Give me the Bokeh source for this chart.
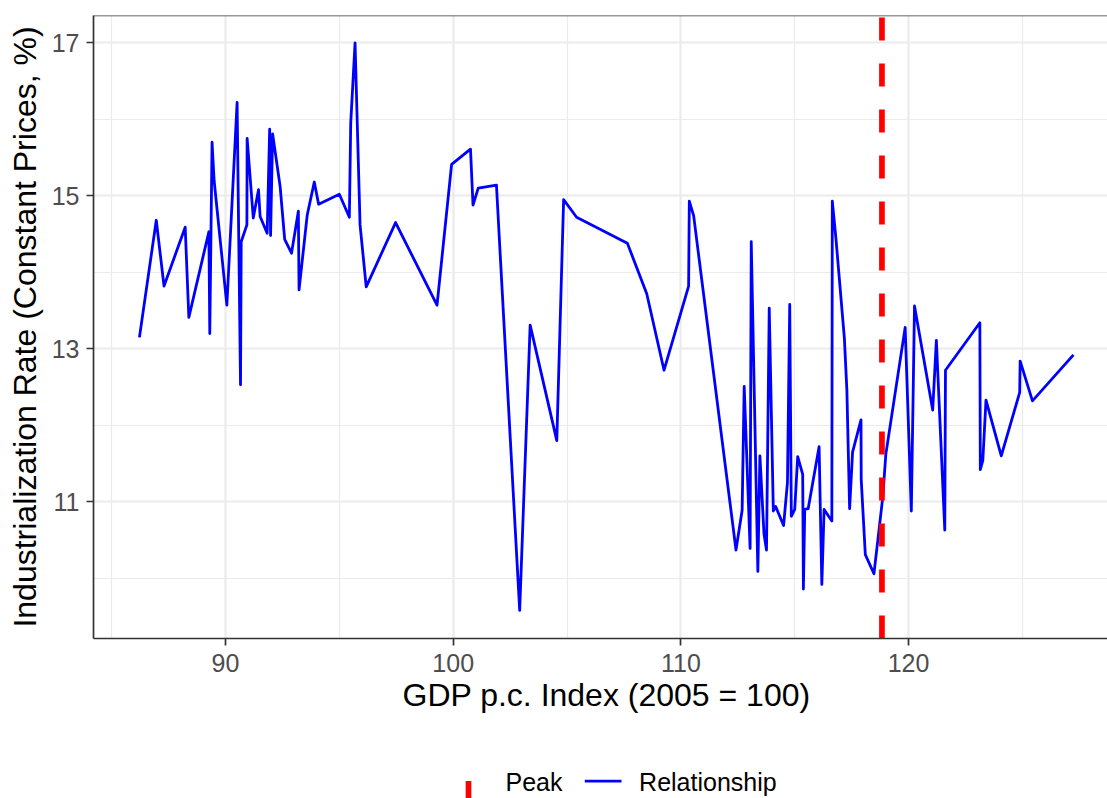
from bokeh.plotting import figure
from bokeh.models import Range1d, FixedTicker, Span, Title
from bokeh.layouts import column
from bokeh.embed import file_html
from bokeh.resources import INLINE
from bokeh.core.properties import value

# ---- data ----
gdp_index = [86.22, 86.96, 87.30, 88.23, 88.39, 89.27, 89.31, 89.41, 89.50, 90.06,
             90.51, 90.66, 90.69, 90.94, 90.95, 91.22, 91.45, 91.52, 91.83, 91.94,
             91.98, 92.07, 92.40, 92.60, 92.90, 93.20, 93.23, 93.59, 93.90, 94.09,
             95.00, 95.44, 95.50, 95.69, 95.91, 96.18, 97.47, 99.29, 99.93, 100.76,
             100.87, 101.10, 101.90, 102.08, 102.92, 103.38, 104.55, 104.85, 105.42, 107.65,
             108.50, 109.26, 110.34, 110.37, 110.56, 112.42, 112.69, 112.78, 113.04, 113.09,
             113.38, 113.47, 113.65, 113.76, 113.88, 114.06, 114.16, 114.51, 114.68, 114.78,
             114.85, 115.00, 115.13, 115.35, 115.38, 115.44, 115.59, 116.07, 116.19, 116.29,
             116.63, 116.65, 116.81, 117.18, 117.29, 117.41, 117.54, 117.91, 117.92, 118.10,
             118.48, 118.87, 119.00, 119.85, 120.12, 120.26, 121.06, 121.22, 121.59, 121.62,
             123.13, 123.15, 123.26, 123.40, 124.07, 124.88, 124.90, 125.44, 127.24]
industrialization_rate = [13.15, 14.68, 13.82, 14.59, 13.41, 14.53, 13.20, 15.70, 15.20, 13.57,
                          16.22, 12.53, 14.40, 14.62, 15.75, 14.71, 15.08, 14.73, 14.51, 15.87,
                          14.48, 15.81, 15.12, 14.43, 14.25, 14.80, 13.77, 14.75, 15.18, 14.89,
                          15.02, 14.72, 15.95, 17.00, 14.62, 13.81, 14.65, 13.57, 15.41, 15.61,
                          14.88, 15.10, 15.14, 14.15, 9.58, 13.31, 11.80, 14.95, 14.72, 14.38,
                          13.72, 12.72, 13.82, 14.93, 14.74, 10.37, 10.89, 12.51, 10.39, 14.40,
                          10.09, 11.60, 10.58, 10.37, 13.53, 10.88, 10.94, 10.69, 11.25, 13.58,
                          10.81, 10.90, 11.59, 11.36, 9.86, 10.90, 10.91, 11.72, 9.92, 10.90,
                          10.75, 14.93, 14.44, 13.14, 12.46, 10.91, 11.65, 12.07, 11.29, 10.31,
                          10.06, 11.07, 11.62, 13.28, 10.88, 13.56, 12.20, 13.11, 10.63, 12.72,
                          13.34, 11.42, 11.54, 12.33, 11.60, 12.43, 12.84, 12.32, 12.92]
peak_gdp = 118.83
x_ticks = [90, 100, 110, 120]
x_minor_ticks = [85, 95, 105, 115, 125]
y_ticks = [11, 13, 15, 17]
y_minor_ticks = [10, 12, 14, 16]
legend_labels = ["Peak", "Relationship"]
x_title = "GDP p.c. Index (2005 = 100)"
y_title = "Industrialization Rate (Constant Prices, %)"

# ---- styling ----
FONT = "Liberation Sans"
TITLE_SIZE = "32px"
TICK_SIZE = "25px"
X0, X1 = 84.203, 128.736
Y0, Y1 = 9.213, 17.357
BORDER = "#333333"
GRID = "#EBEBEB"
LEFT = 93

p = figure(width=1107, height=725, x_range=Range1d(X0, X1), y_range=Range1d(Y0, Y1),
           output_backend="svg", toolbar_location=None,
           min_border_left=LEFT, min_border_right=0, min_border_top=15, min_border_bottom=87)
p.outline_line_color = None
p.background_fill_color = "white"
p.border_fill_color = "white"

for ax, ticks, minor in ((p.xaxis, x_ticks, x_minor_ticks), (p.yaxis, y_ticks, y_minor_ticks)):
    ax.ticker = FixedTicker(ticks=ticks, minor_ticks=minor)
    ax.axis_line_color = BORDER
    ax.axis_line_width = 1.7
    ax.major_tick_line_color = BORDER
    ax.major_tick_line_width = 1.7
    ax.major_tick_out = 7
    ax.major_tick_in = 0
    ax.minor_tick_line_color = None
    ax.major_label_text_font = FONT
    ax.major_label_text_font_size = TICK_SIZE
    ax.major_label_text_color = "#4D4D4D"

p.xaxis.major_label_standoff = 8
p.yaxis.major_label_standoff = 7
p.yaxis.axis_label = y_title
p.yaxis.axis_label_text_font = FONT
p.yaxis.axis_label_text_font_size = TITLE_SIZE
p.yaxis.axis_label_text_font_style = "normal"
p.yaxis.axis_label_text_color = "black"
p.yaxis.axis_label_standoff = 6

for g in (p.xgrid, p.ygrid):
    g.grid_line_color = GRID
    g.grid_line_width = 2.2
    g.minor_grid_line_color = GRID
    g.minor_grid_line_width = 1.2

p.line(gdp_index, industrialization_rate, line_color="#0000FF", line_width=2.8, line_join="round")
p.segment(x0=[peak_gdp], y0=[Y0], x1=[peak_gdp], y1=[Y1], line_color="#FF0000",
          line_width=5.7, line_dash="23 23")
p.add_layout(Span(location=Y1, dimension="width", line_color=BORDER, line_width=1.7))

p.add_layout(Title(text=x_title, align="left", offset=309, text_font=FONT,
                   text_font_size=TITLE_SIZE, text_font_style="normal",
                   text_color="black", standoff=0), "below")

# ---- legend strip (its frame is aligned with the main frame by the column) ----
LH = 73
leg = figure(width=1107, height=LH, x_range=Range1d(LEFT, 1107), y_range=Range1d(LH, 0),
             output_backend="svg", toolbar_location=None,
             min_border_left=LEFT, min_border_right=0, min_border_top=0, min_border_bottom=0,
             x_axis_location=None, y_axis_location=None)
leg.outline_line_color = None
leg.grid.visible = False
leg.segment(x0=[468], y0=[78.5], x1=[468], y1=[32.5], line_color="#FF0000",
            line_width=5.7, line_dash="23 23")
leg.segment(x0=[584.3], y0=[55.7], x1=[621], y1=[55.7], line_color="#0000FF", line_width=2.8)
leg.text(x=[505, 638.6], y=[56.5, 56.5], text=legend_labels, text_font=value(FONT),
         text_font_size=TICK_SIZE, text_baseline="alphabetic", text_align="left",
         text_color="black")

layout = column(p, leg, spacing=0)
open("out.html", "w").write(file_html(layout, INLINE))
